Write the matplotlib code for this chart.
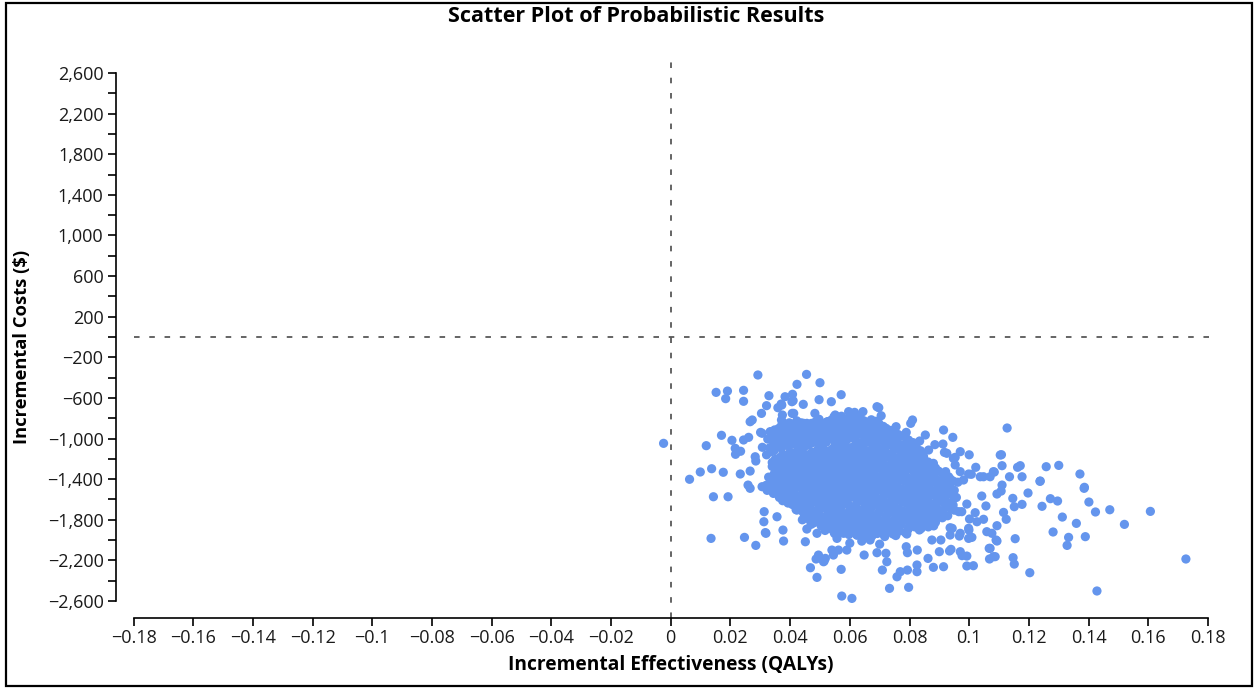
import matplotlib
matplotlib.use("Agg")
import matplotlib.pyplot as plt
from matplotlib.patches import Rectangle
from matplotlib.ticker import FixedLocator

# ---------------- data ----------------
# fringe points (incremental QALYs, incremental costs)
upper_left_qalys = [0.0292, 0.0455, 0.0423, 0.0500, 0.0152, 0.0190, 0.0244, 0.0184, 0.0244, 0.0329,
                    0.0383, 0.0408, 0.0410, 0.0444, 0.0497, 0.0370, 0.0359, 0.0321, 0.0304, 0.0374,
                    0.0407, 0.0483, 0.0523, 0.0273, 0.0266, 0.0371, 0.0423, 0.0456, 0.0301, 0.0170,
                    0.0205, -0.0024, 0.0119, 0.0216, 0.0244, 0.0261, 0.0217, 0.0234, 0.0283, 0.0285,
                    0.0307, 0.0099, 0.0137, 0.0063, 0.0176, 0.0233, 0.0266, 0.0259, 0.0266, 0.0344,
                    0.0320, 0.0372, 0.0406, 0.0333, 0.0306, 0.0379, 0.0412, 0.0529, 0.0445]
upper_left_costs = [-374, -368, -466, -450, -545, -532, -525, -607, -633, -578,
                    -588, -564, -627, -663, -617, -660, -696, -676, -752, -768,
                    -752, -752, -840, -817, -834, -817, -844, -850, -939, -968,
                    -1017, -1047, -1070, -1096, -1014, -988, -1155, -1125, -1179, -1221,
                    -1086, -1329, -1297, -1401, -1332, -1349, -1320, -1458, -1490, -1523,
                    -1460, -670, -637, -932, -948, -932, -752, -834, -850]

upper_right_qalys = [0.0571, 0.0538, 0.0697, 0.0644, 0.0705, 0.0696, 0.0707, 0.0810, 0.0804, 0.0755,
                     0.0789, 0.0668, 0.0914, 0.0853, 0.0834, 0.0945, 0.0912, 0.0864, 0.0970, 0.0800,
                     0.0925, 0.0953, 0.1000, 0.1022, 0.1081, 0.1007, 0.1048, 0.0981, 0.0596, 0.0616,
                     0.0551, 0.0525, 0.0559, 0.0607, 0.0635, 0.0917, 0.0947, 0.0953, 0.0880, 0.0847,
                     0.0836, 0.0998, 0.0970, 0.1037, 0.1070, 0.1104, 0.0921, 0.0931, 0.0691, 0.0885]
upper_right_costs = [-568, -637, -696, -735, -775, -844, -883, -817, -850, -883,
                     -939, -922, -916, -965, -1024, -988, -1054, -1113, -1129, -1041,
                     -1145, -1185, -1160, -1283, -1326, -1352, -1376, -1408, -735, -742,
                     -768, -834, -824, -801, -817, -1136, -1195, -1260, -1244, -1205,
                     -1277, -1349, -1326, -1376, -1376, -1162, -1326, -1376, -686, -1060]

lower_qalys = [0.0143, 0.0192, 0.0313, 0.0356, 0.0312, 0.0376, 0.0319, 0.0135, 0.0247, 0.0285,
               0.0378, 0.0451, 0.0456, 0.0423, 0.0375, 0.0495, 0.0487, 0.0512, 0.0468, 0.0490,
               0.0571, 0.0573, 0.0607, 0.0733, 0.0797, 0.0709, 0.0758, 0.0769, 0.0793, 0.0825,
               0.0825, 0.0880, 0.0914, 0.0862, 0.0992, 0.1014, 0.0724, 0.0721, 0.0691, 0.0648,
               0.0590, 0.0562, 0.0540, 0.0545, 0.0514, 0.0789, 0.0793, 0.0875, 0.0905, 0.0900,
               0.0934, 0.0970, 0.0992, 0.1068, 0.1087, 0.1067, 0.1090, 0.1059, 0.1009, 0.0967,
               0.0999, 0.0936, 0.0936, 0.0992, 0.0975, 0.1020, 0.1026, 0.1056, 0.1042, 0.1093,
               0.1048, 0.0317, 0.0445, 0.0344, 0.0344, 0.0306, 0.0518, 0.0668, 0.0557, 0.0490,
               0.0507, 0.0579, 0.0624, 0.1001, 0.0998, 0.0970, 0.0998, 0.0943, 0.0939, 0.0976,
               0.0826, 0.0640, 0.0600, 0.0700]
lower_costs = [-1573, -1573, -1720, -1770, -1819, -1901, -1933, -1983, -1973, -2052,
               -2009, -2016, -1891, -1704, -1612, -2147, -2186, -2213, -2272, -2367,
               -2288, -2551, -2574, -2475, -2465, -2295, -2361, -2311, -2295, -2245,
               -2311, -2268, -2262, -2180, -2255, -2252, -2213, -2130, -2124, -2147,
               -2098, -2098, -2098, -2147, -2206, -2065, -2124, -1999, -1999, -2114,
               -2107, -2114, -2157, -2186, -2163, -2081, -1999, -1917, -1973, -1960,
               -1901, -1950, -1878, -1645, -1720, -1730, -1819, -1664, -1566, -1546,
               -1795, -1926, -1727, -1540, -1458, -1474, -2180, -1999, -1983, -1933,
               -1851, -1933, -1950, -1792, -1884, -1933, -1983, -1884, -2091, -2153,
               -2098, -2010, -2030, -2040]

right_qalys = [0.1726, 0.1428, 0.1607, 0.1520, 0.1471, 0.1423, 0.1401, 0.1385, 0.1359, 0.1312,
               0.1389, 0.1333, 0.1328, 0.1281, 0.1244, 0.1272, 0.1296, 0.1197, 0.1237, 0.1177,
               0.1146, 0.1151, 0.1110, 0.1107, 0.1115, 0.1124, 0.1093, 0.1076, 0.1093, 0.1154,
               0.1070, 0.1081, 0.1147, 0.1151, 0.1203, 0.1127, 0.1108, 0.1110, 0.1084, 0.1135,
               0.1162, 0.1171, 0.1177, 0.1258, 0.1300, 0.1238, 0.1371, 0.1386]
right_costs = [-2186, -2501, -1717, -1845, -1701, -1723, -1625, -1490, -1835, -1773,
               -1966, -1973, -2052, -1920, -1667, -1592, -1615, -1536, -1421, -1648,
               -1589, -1671, -1458, -1517, -1727, -1795, -1858, -1933, -2009, -1986,
               -2081, -2163, -2173, -2236, -2321, -896, -1159, -1267, -1330, -1376,
               -1283, -1267, -1376, -1277, -1264, -1418, -1349, -1480]

# dense core, column by column
core_q_01 = [0.0337, 0.0325, 0.0332, 0.0321, 0.0340, 0.0328, 0.0335, 0.0323]
core_c_01 = [-935, -1005, -1090, -1160, -1235, -1380, -1445, -1510]
core_q_02 = [0.0362, 0.0350, 0.0357, 0.0346, 0.0365, 0.0353, 0.0360, 0.0348, 0.0356, 0.0363]
core_c_02 = [-900, -975, -1040, -1120, -1190, -1265, -1330, -1410, -1480, -1560]
core_q_03 = [0.0387, 0.0375, 0.0382, 0.0371, 0.0390, 0.0378, 0.0385, 0.0373, 0.0381, 0.0388, 0.0376]
core_c_03 = [-880, -950, -1025, -1095, -1170, -1240, -1315, -1390, -1455, -1530, -1600]
core_q_04 = [0.0412, 0.0400, 0.0407, 0.0396, 0.0415, 0.0403, 0.0410, 0.0398, 0.0406, 0.0413, 0.0401, 0.0408]
core_c_04 = [-860, -930, -1005, -1075, -1150, -1220, -1290, -1365, -1440, -1510, -1585, -1650]
core_q_05 = [0.0437, 0.0425, 0.0432, 0.0421, 0.0440, 0.0428, 0.0435, 0.0423, 0.0431, 0.0438, 0.0426, 0.0433, 0.0420]
core_c_05 = [-845, -915, -990, -1060, -1130, -1200, -1275, -1345, -1420, -1490, -1565, -1640, -1700]
core_q_06 = [0.0462, 0.0450, 0.0457, 0.0446, 0.0465, 0.0453, 0.0460, 0.0448, 0.0456, 0.0463, 0.0451, 0.0458, 0.0445, 0.0461]
core_c_06 = [-870, -940, -1010, -1085, -1155, -1225, -1300, -1370, -1445, -1515, -1590, -1660, -1730, -1790]
core_q_07 = [0.0487, 0.0475, 0.0482, 0.0471, 0.0490, 0.0478, 0.0485, 0.0473, 0.0481, 0.0488, 0.0476, 0.0483, 0.0470, 0.0486, 0.0479]
core_c_07 = [-830, -905, -975, -1045, -1120, -1190, -1260, -1335, -1405, -1480, -1550, -1625, -1695, -1765, -1830]
core_q_08 = [0.0512, 0.0500, 0.0507, 0.0496, 0.0515, 0.0503, 0.0510, 0.0498, 0.0506, 0.0513, 0.0501, 0.0508, 0.0495, 0.0511, 0.0504]
core_c_08 = [-860, -930, -1000, -1075, -1145, -1215, -1290, -1360, -1430, -1505, -1575, -1650, -1720, -1790, -1860]
core_q_09 = [0.0537, 0.0525, 0.0532, 0.0521, 0.0540, 0.0528, 0.0535, 0.0523, 0.0531, 0.0538, 0.0526, 0.0533, 0.0520, 0.0536, 0.0529, 0.0539]
core_c_09 = [-820, -890, -965, -1035, -1105, -1180, -1250, -1320, -1395, -1465, -1540, -1610, -1680, -1755, -1825, -1890]
core_q_10 = [0.0562, 0.0550, 0.0557, 0.0546, 0.0565, 0.0553, 0.0560, 0.0548, 0.0556, 0.0563, 0.0551, 0.0558, 0.0545, 0.0561, 0.0554, 0.0564, 0.0549]
core_c_10 = [-800, -870, -940, -1015, -1085, -1155, -1230, -1300, -1375, -1445, -1515, -1590, -1660, -1730, -1805, -1870, -1935]
core_q_11 = [0.0587, 0.0575, 0.0582, 0.0571, 0.0590, 0.0578, 0.0585, 0.0573, 0.0581, 0.0588, 0.0576, 0.0583, 0.0570, 0.0586, 0.0579, 0.0589]
core_c_11 = [-820, -890, -960, -1035, -1105, -1180, -1250, -1320, -1395, -1465, -1540, -1610, -1680, -1755, -1825, -1900]
core_q_12 = [0.0612, 0.0600, 0.0607, 0.0596, 0.0615, 0.0603, 0.0610, 0.0598, 0.0606, 0.0613, 0.0601, 0.0608, 0.0595, 0.0611, 0.0604, 0.0614, 0.0599]
core_c_12 = [-790, -860, -930, -1000, -1075, -1145, -1215, -1290, -1360, -1430, -1505, -1575, -1650, -1720, -1790, -1865, -1930]
core_q_13 = [0.0637, 0.0625, 0.0632, 0.0621, 0.0640, 0.0628, 0.0635, 0.0623, 0.0631, 0.0638, 0.0626, 0.0633, 0.0620, 0.0636, 0.0629, 0.0639, 0.0624]
core_c_13 = [-810, -880, -950, -1025, -1095, -1165, -1240, -1310, -1380, -1455, -1525, -1600, -1670, -1740, -1815, -1885, -1950]
core_q_14 = [0.0662, 0.0650, 0.0657, 0.0646, 0.0665, 0.0653, 0.0660, 0.0648, 0.0656, 0.0663, 0.0651, 0.0658, 0.0645, 0.0661, 0.0654, 0.0664]
core_c_14 = [-840, -910, -985, -1055, -1125, -1200, -1270, -1340, -1415, -1485, -1560, -1630, -1700, -1775, -1845, -1915]
core_q_15 = [0.0687, 0.0675, 0.0682, 0.0671, 0.0690, 0.0678, 0.0685, 0.0673, 0.0681, 0.0688, 0.0676, 0.0683, 0.0670, 0.0686, 0.0679, 0.0689, 0.0674]
core_c_15 = [-830, -900, -970, -1040, -1115, -1185, -1255, -1330, -1400, -1470, -1545, -1615, -1690, -1760, -1830, -1900, -1960]
core_q_16 = [0.0712, 0.0700, 0.0707, 0.0696, 0.0715, 0.0703, 0.0710, 0.0698, 0.0706, 0.0713, 0.0701, 0.0708, 0.0695, 0.0711, 0.0704, 0.0714]
core_c_16 = [-880, -950, -1020, -1095, -1165, -1235, -1310, -1380, -1450, -1525, -1595, -1665, -1740, -1810, -1880, -1945]
core_q_17 = [0.0737, 0.0725, 0.0732, 0.0721, 0.0740, 0.0728, 0.0735, 0.0723, 0.0731, 0.0738, 0.0726, 0.0733, 0.0720, 0.0736, 0.0729]
core_c_17 = [-920, -990, -1060, -1135, -1205, -1275, -1350, -1420, -1490, -1565, -1635, -1705, -1780, -1850, -1920]
core_q_18 = [0.0762, 0.0750, 0.0757, 0.0746, 0.0765, 0.0753, 0.0760, 0.0748, 0.0756, 0.0763, 0.0751, 0.0758, 0.0745, 0.0761, 0.0754]
core_c_18 = [-960, -1030, -1100, -1175, -1245, -1315, -1390, -1460, -1530, -1605, -1675, -1745, -1820, -1890, -1955]
core_q_19 = [0.0787, 0.0775, 0.0782, 0.0771, 0.0790, 0.0778, 0.0785, 0.0773, 0.0781, 0.0788, 0.0776, 0.0783, 0.0770, 0.0786]
core_c_19 = [-990, -1065, -1135, -1205, -1280, -1350, -1420, -1495, -1565, -1635, -1710, -1780, -1850, -1925]
core_q_20 = [0.0812, 0.0800, 0.0807, 0.0796, 0.0815, 0.0803, 0.0810, 0.0798, 0.0806, 0.0813, 0.0801, 0.0808, 0.0795]
core_c_20 = [-1040, -1110, -1180, -1255, -1325, -1395, -1470, -1540, -1610, -1685, -1755, -1825, -1895]
core_q_21 = [0.0837, 0.0825, 0.0832, 0.0821, 0.0840, 0.0828, 0.0835, 0.0823, 0.0831, 0.0838, 0.0826, 0.0833]
core_c_21 = [-1120, -1190, -1265, -1335, -1405, -1480, -1550, -1620, -1695, -1765, -1835, -1900]
core_q_22 = [0.0862, 0.0850, 0.0857, 0.0846, 0.0865, 0.0853, 0.0860, 0.0848, 0.0856, 0.0863]
core_c_22 = [-1230, -1300, -1370, -1445, -1515, -1585, -1660, -1730, -1800, -1870]
core_q_23 = [0.0887, 0.0875, 0.0882, 0.0871, 0.0890, 0.0878, 0.0885, 0.0873, 0.0881]
core_c_23 = [-1290, -1360, -1430, -1505, -1575, -1645, -1720, -1790, -1860]
core_q_24 = [0.0912, 0.0900, 0.0907, 0.0896, 0.0915, 0.0903, 0.0910]
core_c_24 = [-1350, -1420, -1495, -1565, -1635, -1710, -1780]
core_q_25 = [0.0937, 0.0925, 0.0932, 0.0921, 0.0940, 0.0928]
core_c_25 = [-1400, -1470, -1545, -1615, -1690, -1760]
core_q_26 = [0.0962, 0.0950, 0.0957, 0.0946, 0.0965]
core_c_26 = [-1430, -1510, -1580, -1655, -1720]

# dense core, in-between columns
mid_q_01 = [0.0348, 0.0338, 0.0345, 0.0336, 0.0350, 0.0340, 0.0347, 0.0337, 0.0344]
mid_c_01 = [-915, -985, -1060, -1130, -1205, -1275, -1345, -1420, -1490]
mid_q_02 = [0.0372, 0.0363, 0.0370, 0.0361, 0.0375, 0.0365, 0.0371, 0.0362, 0.0369, 0.0374, 0.0364]
mid_c_02 = [-865, -940, -1010, -1080, -1155, -1225, -1295, -1370, -1440, -1510, -1580]
mid_q_03 = [0.0397, 0.0388, 0.0395, 0.0386, 0.0400, 0.0390, 0.0396, 0.0387, 0.0394, 0.0399, 0.0389, 0.0393]
mid_c_03 = [-845, -915, -990, -1060, -1135, -1205, -1275, -1350, -1420, -1490, -1565, -1635]
mid_q_04 = [0.0422, 0.0413, 0.0420, 0.0411, 0.0425, 0.0415, 0.0421, 0.0412, 0.0419, 0.0424, 0.0414, 0.0418, 0.0423]
mid_c_04 = [-825, -895, -970, -1040, -1110, -1185, -1255, -1325, -1400, -1470, -1545, -1615, -1680]
mid_q_05 = [0.0447, 0.0438, 0.0445, 0.0436, 0.0450, 0.0440, 0.0446, 0.0437, 0.0444, 0.0449, 0.0439, 0.0443, 0.0448, 0.0441]
mid_c_05 = [-880, -950, -1025, -1095, -1165, -1240, -1310, -1380, -1455, -1525, -1600, -1670, -1740, -1800]
mid_q_06 = [0.0472, 0.0463, 0.0470, 0.0461, 0.0475, 0.0465, 0.0471, 0.0462, 0.0469, 0.0474, 0.0464, 0.0468, 0.0473, 0.0466, 0.0470]
mid_c_06 = [-850, -920, -990, -1065, -1135, -1205, -1280, -1350, -1420, -1495, -1565, -1640, -1710, -1780, -1845]
mid_q_07 = [0.0497, 0.0488, 0.0495, 0.0486, 0.0500, 0.0490, 0.0496, 0.0487, 0.0494, 0.0499, 0.0489, 0.0493, 0.0498, 0.0491, 0.0495]
mid_c_07 = [-810, -885, -955, -1025, -1100, -1170, -1240, -1315, -1385, -1455, -1530, -1600, -1675, -1745, -1815]
mid_q_08 = [0.0522, 0.0513, 0.0520, 0.0511, 0.0525, 0.0515, 0.0521, 0.0512, 0.0519, 0.0524, 0.0514, 0.0518, 0.0523, 0.0516, 0.0520, 0.0517]
mid_c_08 = [-840, -910, -985, -1055, -1125, -1200, -1270, -1340, -1415, -1485, -1555, -1630, -1700, -1770, -1845, -1905]
mid_q_09 = [0.0547, 0.0538, 0.0545, 0.0536, 0.0550, 0.0540, 0.0546, 0.0537, 0.0544, 0.0549, 0.0539, 0.0543, 0.0548, 0.0541, 0.0545, 0.0542, 0.0547]
mid_c_09 = [-785, -855, -930, -1000, -1070, -1145, -1215, -1285, -1360, -1430, -1500, -1575, -1645, -1715, -1790, -1860, -1920]
mid_q_10 = [0.0572, 0.0563, 0.0570, 0.0561, 0.0575, 0.0565, 0.0571, 0.0562, 0.0569, 0.0574, 0.0564, 0.0568, 0.0573, 0.0566, 0.0570, 0.0567, 0.0572]
mid_c_10 = [-780, -850, -925, -995, -1065, -1140, -1210, -1280, -1355, -1425, -1495, -1570, -1640, -1710, -1785, -1855, -1920]
mid_q_11 = [0.0597, 0.0588, 0.0595, 0.0586, 0.0600, 0.0590, 0.0596, 0.0587, 0.0594, 0.0599, 0.0589, 0.0593, 0.0598, 0.0591, 0.0595, 0.0592, 0.0597]
mid_c_11 = [-805, -875, -945, -1020, -1090, -1160, -1235, -1305, -1375, -1450, -1520, -1595, -1665, -1735, -1810, -1880, -1945]
mid_q_12 = [0.0622, 0.0613, 0.0620, 0.0611, 0.0625, 0.0615, 0.0621, 0.0612, 0.0619, 0.0624, 0.0614, 0.0618, 0.0623, 0.0616, 0.0620, 0.0617, 0.0622]
mid_c_12 = [-775, -845, -915, -990, -1060, -1130, -1205, -1275, -1345, -1420, -1490, -1565, -1635, -1705, -1780, -1850, -1915]
mid_q_13 = [0.0647, 0.0638, 0.0645, 0.0636, 0.0650, 0.0640, 0.0646, 0.0637, 0.0644, 0.0649, 0.0639, 0.0643, 0.0648, 0.0641, 0.0645, 0.0642, 0.0647]
mid_c_13 = [-825, -895, -965, -1040, -1110, -1180, -1255, -1325, -1395, -1470, -1540, -1615, -1685, -1755, -1830, -1900, -1965]
mid_q_14 = [0.0672, 0.0663, 0.0670, 0.0661, 0.0675, 0.0665, 0.0671, 0.0662, 0.0669, 0.0674, 0.0664, 0.0668, 0.0673, 0.0666, 0.0670, 0.0667, 0.0672]
mid_c_14 = [-815, -885, -955, -1030, -1100, -1170, -1245, -1315, -1385, -1460, -1530, -1600, -1675, -1745, -1815, -1885, -1950]
mid_q_15 = [0.0697, 0.0688, 0.0695, 0.0686, 0.0700, 0.0690, 0.0696, 0.0687, 0.0694, 0.0699, 0.0689, 0.0693, 0.0698, 0.0691, 0.0695, 0.0692]
mid_c_15 = [-860, -935, -1005, -1075, -1150, -1220, -1290, -1365, -1435, -1505, -1580, -1650, -1720, -1795, -1865, -1935]
mid_q_16 = [0.0722, 0.0713, 0.0720, 0.0711, 0.0725, 0.0715, 0.0721, 0.0712, 0.0719, 0.0724, 0.0714, 0.0718, 0.0723, 0.0716, 0.0720, 0.0717]
mid_c_16 = [-900, -970, -1045, -1115, -1185, -1260, -1330, -1400, -1475, -1545, -1615, -1690, -1760, -1830, -1905, -1965]
mid_q_17 = [0.0747, 0.0738, 0.0745, 0.0736, 0.0750, 0.0740, 0.0746, 0.0737, 0.0744, 0.0749, 0.0739, 0.0743, 0.0748, 0.0741, 0.0745]
mid_c_17 = [-940, -1010, -1080, -1155, -1225, -1295, -1370, -1440, -1510, -1585, -1655, -1725, -1800, -1870, -1940]
mid_q_18 = [0.0772, 0.0763, 0.0770, 0.0761, 0.0775, 0.0765, 0.0771, 0.0762, 0.0769, 0.0774, 0.0764, 0.0768, 0.0773, 0.0766]
mid_c_18 = [-975, -1050, -1120, -1190, -1265, -1335, -1405, -1480, -1550, -1620, -1695, -1765, -1835, -1910]
mid_q_19 = [0.0797, 0.0788, 0.0795, 0.0786, 0.0800, 0.0790, 0.0796, 0.0787, 0.0794, 0.0799, 0.0789, 0.0793, 0.0798, 0.0791]
mid_c_19 = [-1015, -1085, -1160, -1230, -1300, -1375, -1445, -1515, -1590, -1660, -1730, -1805, -1875, -1940]
mid_q_20 = [0.0822, 0.0813, 0.0820, 0.0811, 0.0825, 0.0815, 0.0821, 0.0812, 0.0819, 0.0824, 0.0814, 0.0818]
mid_c_20 = [-1080, -1150, -1225, -1295, -1365, -1440, -1510, -1580, -1655, -1725, -1795, -1870]
mid_q_21 = [0.0847, 0.0838, 0.0845, 0.0836, 0.0850, 0.0840, 0.0846, 0.0837, 0.0844, 0.0849, 0.0839]
mid_c_21 = [-1175, -1245, -1320, -1390, -1460, -1535, -1605, -1675, -1750, -1820, -1885]
mid_q_22 = [0.0872, 0.0863, 0.0870, 0.0861, 0.0875, 0.0865, 0.0871, 0.0862, 0.0869]
mid_c_22 = [-1265, -1335, -1410, -1480, -1550, -1625, -1695, -1765, -1840]
mid_q_23 = [0.0897, 0.0888, 0.0895, 0.0886, 0.0900, 0.0890, 0.0896, 0.0887]
mid_c_23 = [-1320, -1395, -1465, -1535, -1610, -1680, -1750, -1825]
mid_q_24 = [0.0922, 0.0913, 0.0920, 0.0911, 0.0925, 0.0915]
mid_c_24 = [-1385, -1455, -1530, -1600, -1670, -1745]
mid_q_25 = [0.0947, 0.0938, 0.0945, 0.0936, 0.0950]
mid_c_25 = [-1420, -1490, -1560, -1635, -1705]

x_tick_values = [-0.18, -0.16, -0.14, -0.12, -0.1, -0.08, -0.06, -0.04, -0.02, 0,
                 0.02, 0.04, 0.06, 0.08, 0.1, 0.12, 0.14, 0.16, 0.18]
x_tick_labels = ["\u22120.18", "\u22120.16", "\u22120.14", "\u22120.12", "\u22120.1", "\u22120.08",
                 "\u22120.06", "\u22120.04", "\u22120.02", "0", "0.02", "0.04", "0.06", "0.08",
                 "0.1", "0.12", "0.14", "0.16", "0.18"]
y_major_values = [2600, 2200, 1800, 1400, 1000, 600, 200, -200, -600, -1000, -1400, -1800, -2200, -2600]
y_major_labels = ["2,600", "2,200", "1,800", "1,400", "1,000", "600", "200", "\u2212200", "\u2212600",
                  "\u22121,000", "\u22121,400", "\u22121,800", "\u22122,200", "\u22122,600"]
y_minor_values = [2400, 2000, 1600, 1200, 800, 400, 0, -400, -800, -1200, -1600, -2000, -2400]

title_text = "Scatter Plot of Probabilistic Results"
x_label_text = "Incremental Effectiveness (QALYs)"
y_label_text = "Incremental Costs ($)"

# ---------------- assemble ----------------
core_q = [core_q_01, core_q_02, core_q_03, core_q_04, core_q_05, core_q_06, core_q_07,
          core_q_08, core_q_09, core_q_10, core_q_11, core_q_12, core_q_13, core_q_14,
          core_q_15, core_q_16, core_q_17, core_q_18, core_q_19, core_q_20, core_q_21,
          core_q_22, core_q_23, core_q_24, core_q_25, core_q_26]
core_c = [core_c_01, core_c_02, core_c_03, core_c_04, core_c_05, core_c_06, core_c_07,
          core_c_08, core_c_09, core_c_10, core_c_11, core_c_12, core_c_13, core_c_14,
          core_c_15, core_c_16, core_c_17, core_c_18, core_c_19, core_c_20, core_c_21,
          core_c_22, core_c_23, core_c_24, core_c_25, core_c_26]
mid_q = [mid_q_01, mid_q_02, mid_q_03, mid_q_04, mid_q_05, mid_q_06, mid_q_07, mid_q_08,
         mid_q_09, mid_q_10, mid_q_11, mid_q_12, mid_q_13, mid_q_14, mid_q_15, mid_q_16,
         mid_q_17, mid_q_18, mid_q_19, mid_q_20, mid_q_21, mid_q_22, mid_q_23, mid_q_24, mid_q_25]
mid_c = [mid_c_01, mid_c_02, mid_c_03, mid_c_04, mid_c_05, mid_c_06, mid_c_07, mid_c_08,
         mid_c_09, mid_c_10, mid_c_11, mid_c_12, mid_c_13, mid_c_14, mid_c_15, mid_c_16,
         mid_c_17, mid_c_18, mid_c_19, mid_c_20, mid_c_21, mid_c_22, mid_c_23, mid_c_24, mid_c_25]
groups_q = [upper_left_qalys, upper_right_qalys, lower_qalys, right_qalys] + core_q + mid_q
groups_c = [upper_left_costs, upper_right_costs, lower_costs, right_costs] + core_c + mid_c
qalys = [v for g in groups_q for v in g]
costs = [v for g in groups_c for v in g]

plt.rcParams['font.family'] = ['Open Sans', 'DejaVu Sans']
plt.rcParams['lines.scale_dashes'] = False

W, H = 1257, 689
fig = plt.figure(figsize=(W / 100, H / 100), dpi=100)
left_px, right_px, top_px, bottom_px = 133.5, 1215, 60, 618
ax = fig.add_axes([left_px / W, 1 - bottom_px / H,
                   (right_px - left_px) / W, (bottom_px - top_px) / H])

ax.scatter(qalys, costs, s=44, color='#6495ED', edgecolors='none', zorder=3)

dash_color = '#4a4a4a'
ax.axhline(0, color=dash_color, lw=1.2, linestyle=(0, (4.0, 7.0)), zorder=1)
ax.axvline(0, color=dash_color, lw=1.2, linestyle=(0, (4.0, 7.0)), zorder=1)

ax.set_xlim(-0.18, 0.18235)
ax.set_ylim(-2767, 2728)

for side in ('top', 'right'):
    ax.spines[side].set_visible(False)
ax.spines['left'].set_position(('outward', 12.6))
ax.spines['left'].set_bounds(-2600, 2600)
ax.spines['bottom'].set_bounds(-0.18, 0.18)
for side in ('left', 'bottom'):
    ax.spines[side].set_linewidth(1.2)
    ax.spines[side].set_color('black')

ax.xaxis.set_major_locator(FixedLocator(x_tick_values))
ax.set_xticklabels(x_tick_labels)
ax.yaxis.set_major_locator(FixedLocator(y_major_values))
ax.set_yticklabels(y_major_labels)
ax.yaxis.set_minor_locator(FixedLocator(y_minor_values))

ax.tick_params(axis='both', which='both', direction='out', length=6, width=1.2,
               color='black', labelsize=13, labelcolor='#1a1a1a')
ax.tick_params(axis='x', pad=2)
ax.tick_params(axis='y', pad=3)

fig.text(636.5 / W, 1 - 17 / H, title_text, ha='center', va='center',
         fontsize=15.5, fontweight='bold', color='black')
fig.text(671 / W, 1 - 665 / H, x_label_text, ha='center', va='center',
         fontsize=13.8, fontweight='bold', color='black')
fig.text(22 / W, 1 - 347 / H, y_label_text, ha='center', va='center', rotation=90,
         fontsize=13.2, fontweight='bold', color='black')

fig.patches.append(Rectangle((6 / W, 1 - 686 / H), (1252 - 6) / W, (686 - 3) / H,
                             transform=fig.transFigure, fill=False, ec='black', lw=1.6))

fig.savefig('out.png', dpi=100, facecolor='white')
